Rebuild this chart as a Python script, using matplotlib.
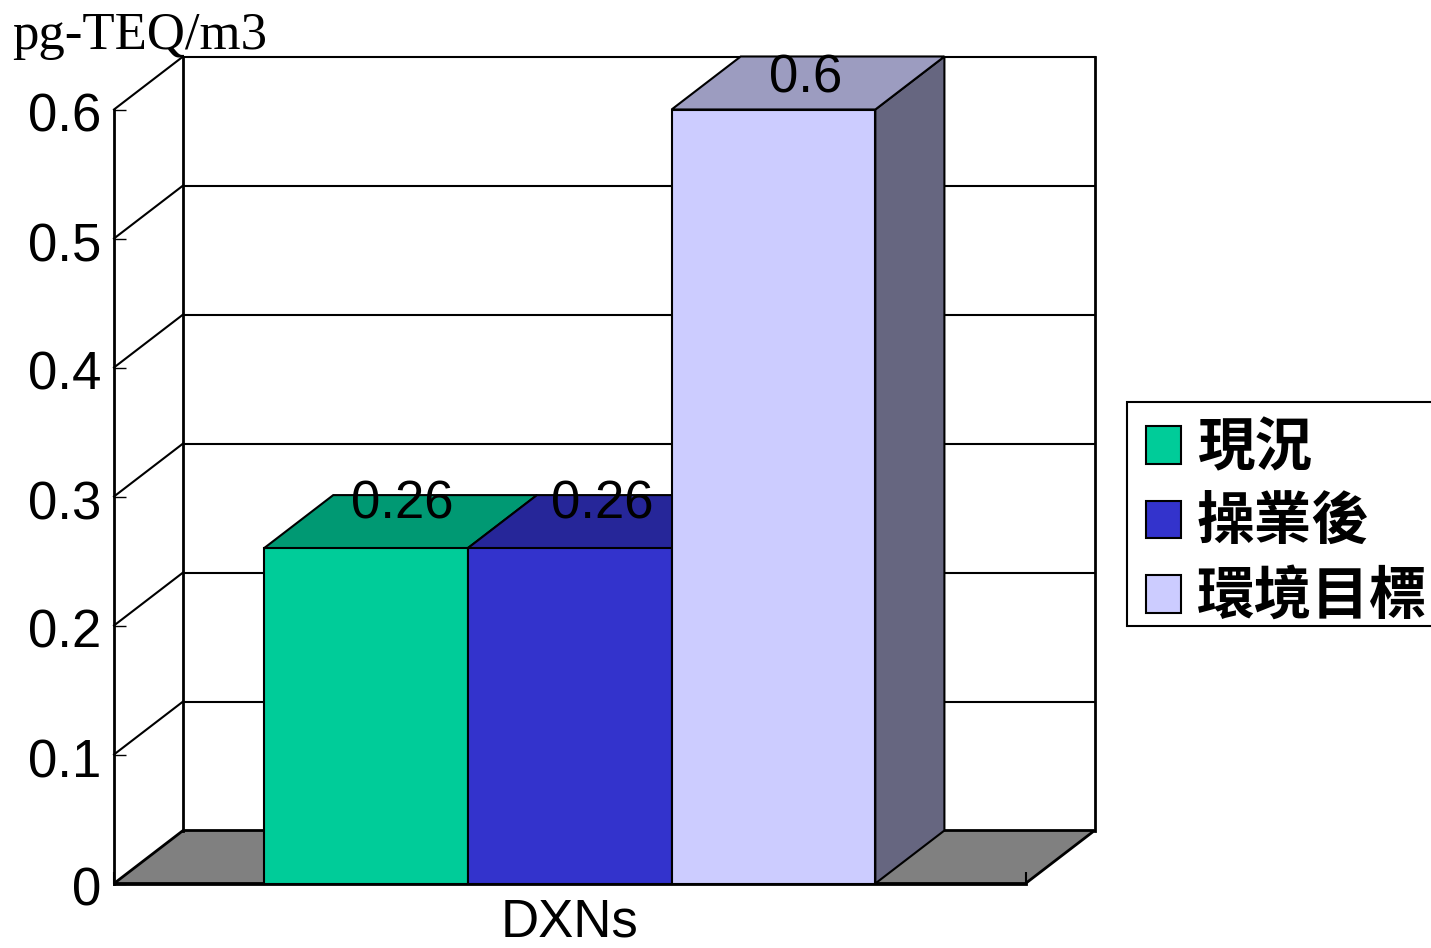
import matplotlib
matplotlib.use("Agg")
import matplotlib.pyplot as plt
from matplotlib.patches import Patch, Polygon, Rectangle
from matplotlib.transforms import ScaledTranslation

plt.rcParams['font.family'] = ['Liberation Sans', 'DejaVu Sans']

# Data
series = ['現況', '操業後', '環境目標']
values = [0.26, 0.26, 0.6]
value_labels = ['0.26', '0.26', '0.6']
category = 'DXNs'
y_ticks = [0, 0.1, 0.2, 0.3, 0.4, 0.5, 0.6]
y_tick_labels = ['0', '0.1', '0.2', '0.3', '0.4', '0.5', '0.6']
unit = 'pg-TEQ/m3'

# Styles
front_colors = ['#00CC99', '#3333CC', '#CCCCFF']
top_colors = ['#009973', '#262699', '#9C9CC0']
side_colors = ['#006B50', '#1A1A80', '#666680']
floor_color = '#808080'
label_lift = [30, 30, 17]   # px above the front edge of the bar top
label_nudge = [2, -2, -2]   # px sideways from the centre of the bar top

W, H = 1431, 948
DPI = 100
X0, X1 = 114, 1025.5        # front plane, px
Y0, Y1 = 883.5, 109.5
DEPTH_X = 69 / 203.5        # depth offset in bar widths
DEPTH_Y = 0.6 * 53 / 774    # depth offset in y units
XMIN = -0.5 - 150 / 203.5
XMAX = 2.5 + 150 / 203.5
LW = 1.5
WALL_LW = 2.0

fig = plt.figure(figsize=(W / DPI, H / DPI), dpi=DPI)
ax = fig.add_axes([X0 / W, 1 - Y0 / H, (X1 - X0) / W, (Y0 - Y1) / H])
ax.set_xlim(XMIN, XMAX)
ax.set_ylim(0, 0.6)
ax.patch.set_visible(False)


def face(points, color, z, lw=LW):
    ax.add_patch(Polygon(points, closed=True, facecolor=color, edgecolor='black',
                         linewidth=lw, joinstyle='miter', clip_on=False, zorder=z))


# Floor and back wall
face([(XMIN, 0), (XMAX, 0), (XMAX + DEPTH_X, DEPTH_Y), (XMIN + DEPTH_X, DEPTH_Y)],
     floor_color, 1, WALL_LW)
for t in y_ticks[1:]:
    ax.plot([XMIN + DEPTH_X, XMAX + DEPTH_X], [t + DEPTH_Y, t + DEPTH_Y],
            color='black', lw=LW, clip_on=False, zorder=1.5)
    ax.plot([XMIN, XMIN + DEPTH_X], [t, t + DEPTH_Y],
            color='black', lw=LW, clip_on=False, zorder=1.5)
for x in [XMIN + DEPTH_X, XMAX + DEPTH_X]:
    ax.plot([x, x], [DEPTH_Y, 0.6 + DEPTH_Y], color='black', lw=WALL_LW, clip_on=False, zorder=1.5)

# Bars, back to front from left to right
for i, v in enumerate(values):
    left, right = i - 0.5, i + 0.5
    z = 2 + i
    face([(right, 0), (right + DEPTH_X, DEPTH_Y), (right + DEPTH_X, v + DEPTH_Y), (right, v)],
         side_colors[i], z)
    face([(left, v), (right, v), (right + DEPTH_X, v + DEPTH_Y), (left + DEPTH_X, v + DEPTH_Y)],
         top_colors[i], z)
    face([(left, 0), (right, 0), (right, v), (left, v)], front_colors[i], z)

for i, v in enumerate(values):
    ax.annotate(value_labels[i], xy=(i + DEPTH_X / 2, v),
                xytext=(label_nudge[i] * 72 / DPI, label_lift[i] * 72 / DPI),
                textcoords='offset points', ha='center', va='baseline',
                fontsize=38, zorder=10, annotation_clip=False)

# Axes furniture
for name in ['top', 'right']:
    ax.spines[name].set_visible(False)
for name in ['left', 'bottom']:
    ax.spines[name].set_linewidth(WALL_LW)
    ax.spines[name].set_zorder(8)

ax.set_yticks(y_ticks)
ax.set_yticklabels(y_tick_labels, fontsize=38, va='center_baseline')
ax.tick_params(axis='y', direction='in', length=8.5, width=1, pad=9)
label_drop = ScaledTranslation(0, -3 / DPI, fig.dpi_scale_trans)
for lab in ax.get_yticklabels():
    lab.set_transform(lab.get_transform() + label_drop)

ax.set_xticks([1])
ax.set_xticklabels([category], fontsize=38)
ax.set_xticks([XMIN, XMAX], minor=True)
ax.tick_params(axis='x', which='major', length=0, pad=10)
ax.tick_params(axis='x', which='minor', direction='in', length=8.5, width=LW)

fig.text(12 / W, 1 - 49 / H, unit, family='Liberation Serif', fontsize=38, va='baseline')

# Legend box runs off the right edge of the figure
fig.add_artist(Rectangle((1127 / W, 1 - 626 / H), 320 / W, 224 / H, transform=fig.transFigure,
                         facecolor='white', edgecolor='black', linewidth=LW))
handles = [Patch(facecolor=c, edgecolor='black', linewidth=LW) for c in front_colors]
leg = fig.legend(handles, series, loc='upper left',
                 bbox_to_anchor=(1129 / W, 1 - 402 / H),
                 bbox_transform=fig.transFigure, borderaxespad=0,
                 prop={'family': ['Noto Sans CJK TC', 'DejaVu Sans'], 'weight': 'bold', 'size': 41.5},
                 handlelength=0.6, handleheight=0.62, handletextpad=0.28,
                 borderpad=0.3, labelspacing=0.285, frameon=False)

fig.savefig('out.png', dpi=DPI)
